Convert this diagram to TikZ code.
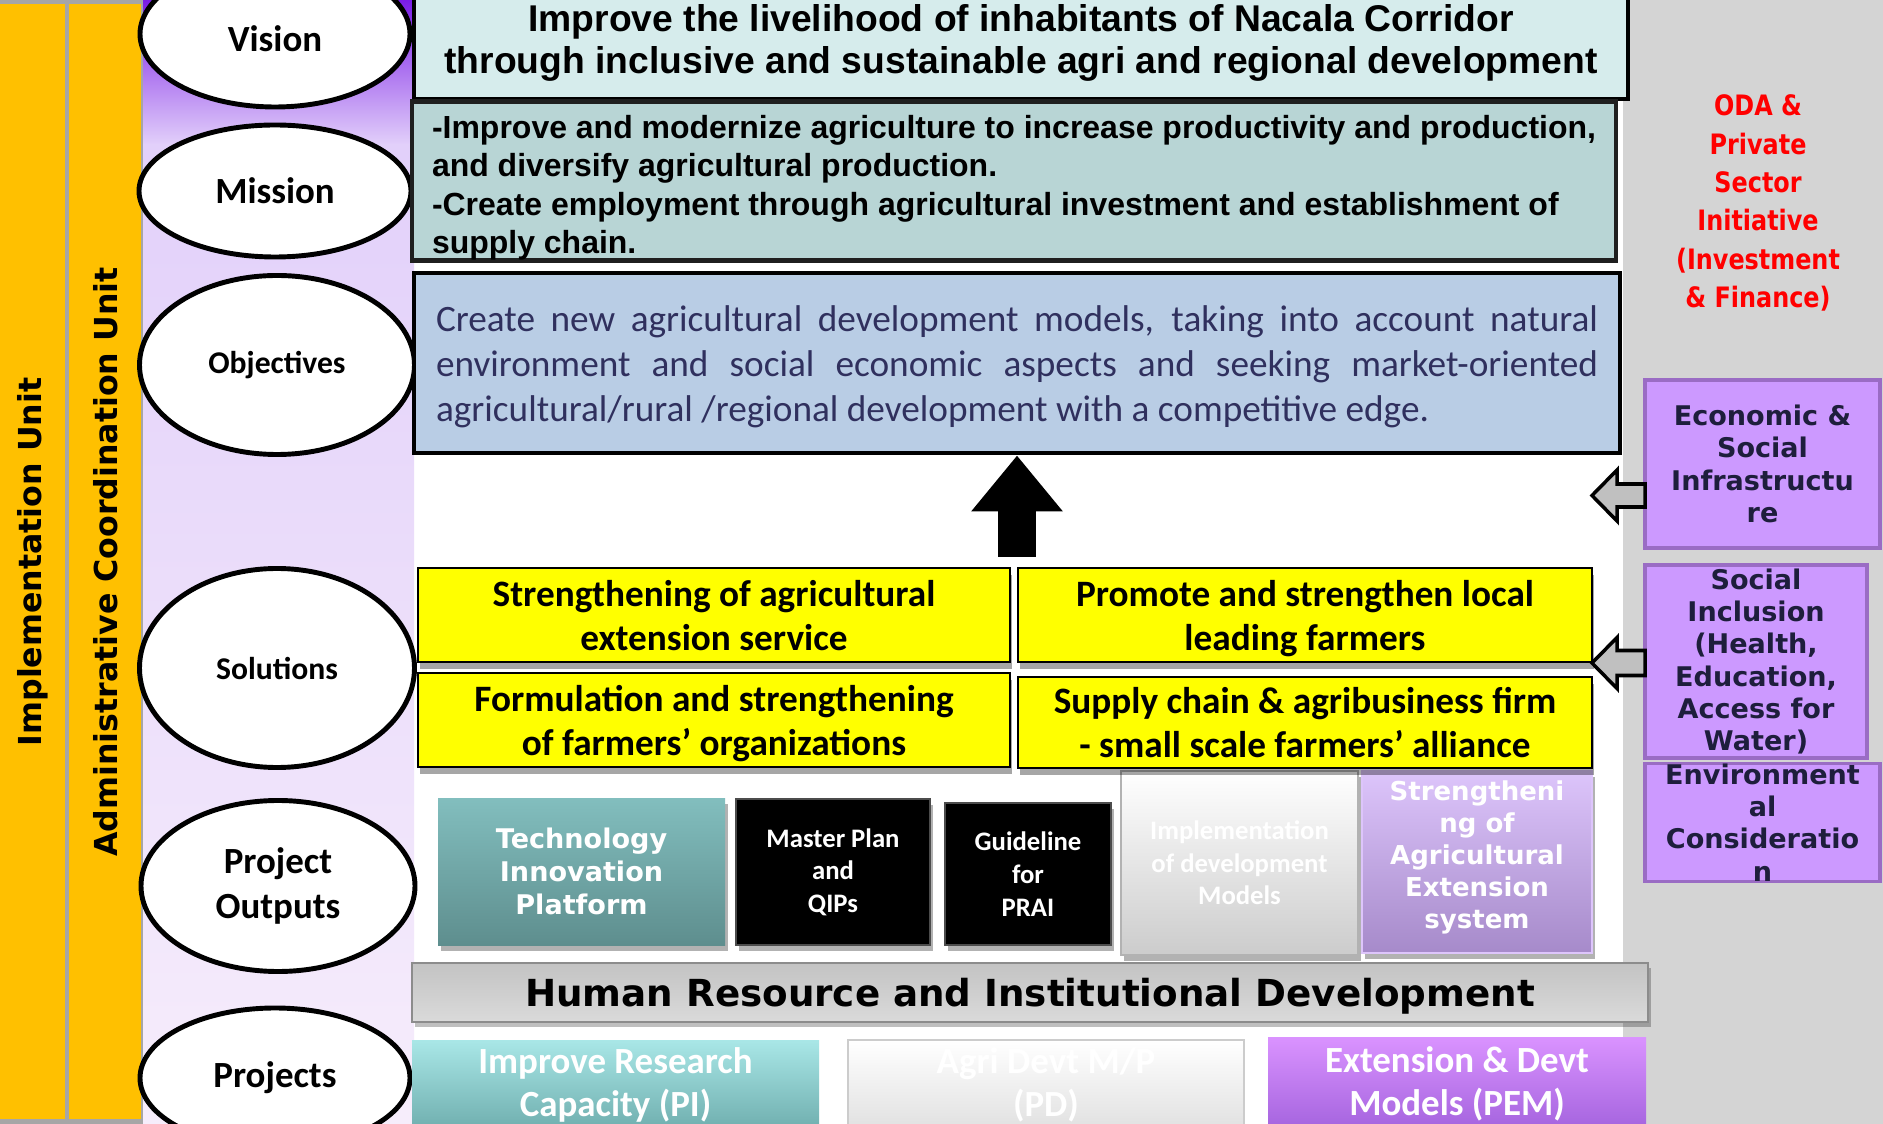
\documentclass[tikz,border=0pt]{standalone}
\usepackage{fontspec}
\setmainfont{Carlito}
\newfontfamily\wideSans{DejaVu Sans}
\newfontfamily\narrowSans[FakeStretch=0.85]{DejaVu Sans}
\newfontfamily\arialSans{Liberation Sans}
\usepackage{xcolor}
\usepackage{tikz}
\usetikzlibrary{shapes.geometric, arrows.meta, positioning, shadows}

\definecolor{unitorange}{HTML}{FFC000}
\definecolor{sepgray}{HTML}{A6A6A6}
\definecolor{violettop}{HTML}{7A1CE6}
\definecolor{lavmid}{HTML}{E2D0FA}
\definecolor{lavlow}{HTML}{F6EDFB}
\definecolor{sidegray}{HTML}{D4D4D4}
\definecolor{visionfill}{HTML}{D6ECEC}
\definecolor{missionfill}{HTML}{B8D5D5}
\definecolor{objfill}{HTML}{B9CDE5}
\definecolor{objtext}{HTML}{30305E}
\definecolor{solyellow}{HTML}{FFFF00}
\definecolor{tealtop}{HTML}{82BEBE}
\definecolor{tealbot}{HTML}{5E8E8E}
\definecolor{lilactop}{HTML}{DDC5FB}
\definecolor{lilacbot}{HTML}{A68ACA}
\definecolor{hrtop}{HTML}{C3C3C3}
\definecolor{hrbot}{HTML}{DADADA}
\definecolor{cyantop}{HTML}{A9E7E7}
\definecolor{cyanbot}{HTML}{6FAEAE}
\definecolor{pinktop}{HTML}{DA93FF}
\definecolor{pinkbot}{HTML}{A463DE}
\definecolor{sidefill}{HTML}{CC99FF}
\definecolor{sideline}{HTML}{9A6CC4}
\definecolor{sidetext}{HTML}{1E1E3C}
\definecolor{odared}{HTML}{FF0000}
\definecolor{arrowgray}{HTML}{C0C0C0}

\tikzset{
  stage/.style={ellipse, draw, line width=1.4pt, fill=white, inner sep=0pt, align=center,
    font=\bfseries\fontsize{10.5}{13}\selectfont},
  smallstage/.style={stage, font=\bfseries\fontsize{9}{11}\selectfont},
  goalbox/.style={rectangle, draw=black, line width=1.4pt, inner sep=0pt},
  solbox/.style={rectangle, draw, line width=0.6pt, fill=solyellow, inner sep=0pt, align=center,
    text depth=0pt, font=\bfseries\fontsize{10.6}{12.5}\selectfont,
    drop shadow={shadow xshift=0.02cm, shadow yshift=-0.07cm, opacity=0.35, fill=black}},
  outbox/.style={rectangle, inner sep=0pt, align=center, text=white,
    drop shadow={shadow xshift=0.03cm, shadow yshift=-0.06cm, opacity=0.3, fill=black}},
  projbox/.style={rectangle, inner sep=0pt, align=center, text=white,
    font=\bfseries\fontsize{10.5}{12.2}\selectfont},
  sidebox/.style={rectangle, draw=sideline, line width=1pt, fill=sidefill, inner sep=0pt,
    align=center, text=sidetext, font=\wideSans\bfseries\fontsize{7.7}{9.2}\selectfont},
  sidearrow/.style={draw, line width=1pt, fill=arrowgray, line join=miter},
  unitlabel/.style={rotate=90, font=\wideSans\bfseries\fontsize{9}{11}\selectfont}
}

\begin{document}
\begin{tikzpicture}
  \useasboundingbox (0,0) rectangle (18.83,-11.24);
  % background bands
  \fill[white] (0,0) rectangle (18.83,-11.24);
  \fill[sidegray] (16.23,0) rectangle (18.83,-11.24);
  \fill[sepgray] (0,0) rectangle (1.43,-11.24);
  \fill[unitorange] (0,-0.04) rectangle (0.65,-11.19);
  \fill[unitorange] (0.69,-0.04) rectangle (1.41,-11.19);
  \shade[top color=violettop, bottom color=lavmid] (1.43,0) rectangle (4.14,-1.45);
  \shade[top color=lavmid, bottom color=lavlow] (1.43,-1.45) rectangle (4.14,-11.24);

  \node[unitlabel] (impunit) at (0.33,-5.62) {Implementation Unit};
  \node[unitlabel] (admunit) at (1.06,-5.62) {Administrative Coordination Unit};

  % left column
  \node[stage, minimum width=2.70cm, minimum height=1.46cm, text height=0.36cm] (vision) at (2.75,-0.34) {Vision};
  \node[stage, minimum width=2.72cm, minimum height=1.32cm] (mission) at (2.75,-1.91) {Mission};
  \node[smallstage, minimum width=2.75cm, minimum height=1.79cm] (objectives) at (2.77,-3.65) {Objectives};
  \node[smallstage, minimum width=2.75cm, minimum height=1.99cm] (solutions) at (2.77,-6.68) {Solutions};
  \node[stage, minimum width=2.74cm, minimum height=1.71cm] (outputs) at (2.78,-8.86) {Project\\Outputs};
  \node[stage, minimum width=2.70cm, minimum height=1.40cm] (projects) at (2.75,-10.78) {Projects};

  % vision, mission, objectives
  \node[goalbox, fill=visionfill, line width=1.1pt, minimum width=12.14cm, minimum height=1.12cm,
    align=center, font=\arialSans\bfseries\fontsize{10.6}{12.2}\selectfont] (visbox) at (10.21,-0.43)
    {Improve the livelihood of inhabitants of Nacala Corridor\\
     through inclusive and sustainable agri and regional development};
  \node[goalbox, draw=black!88, fill=missionfill, minimum width=12.04cm, minimum height=1.54cm,
    align=left, font=\arialSans\bfseries\fontsize{9.1}{10.95}\selectfont] (misbox) at (10.14,-1.81)
    {\rule{0pt}{0.37cm}-Improve and modernize agriculture to increase productivity and production,\\
     and diversify agricultural production.\\
     -Create employment through agricultural investment and establishment of\\
     supply chain.};
  \node[goalbox, fill=objfill, minimum width=12.06cm, minimum height=1.80cm, text width=11.62cm,
    align=justify, text=objtext, font=\fontsize{10.6}{12.8}\selectfont] (objbox) at (10.17,-3.63)
    {\rule{0pt}{0.34cm}Create new agricultural development models, taking into account natural\linebreak
     environment and social economic aspects and seeking market-oriented\linebreak
     agricultural/rural /regional development with a competitive edge.};

  % project outputs
  \node[outbox, top color=tealtop, bottom color=tealbot, minimum width=2.87cm, minimum height=1.47cm,
    font=\wideSans\bfseries\fontsize{7.7}{9.3}\selectfont] (tip) at (5.815,-8.715)
    {Technology\\Innovation\\Platform};
  \node[outbox, fill=black, draw=black!70, line width=0.6pt, minimum width=1.94cm, minimum height=1.46cm,
    font=\bfseries\fontsize{7.6}{9.3}\selectfont] (mplan) at (8.33,-8.72) {Master Plan\\and\\QIPs};
  \node[outbox, fill=black, draw=black!70, line width=0.6pt, minimum width=1.66cm, minimum height=1.42cm,
    font=\bfseries\fontsize{7.6}{9.3}\selectfont] (guide) at (10.28,-8.74) {Guideline\\for\\PRAI};
  \node[outbox, top color=white, bottom color=black!20, draw=black!30, line width=0.8pt,
    minimum width=2.37cm, minimum height=1.84cm, text=white,
    font=\bfseries\fontsize{7.6}{9.2}\selectfont] (impl) at (12.395,-8.63)
    {Implementation\\of development\\Models};
  \node[outbox, top color=lilactop, bottom color=lilacbot, draw=lilactop, line width=0.8pt,
    minimum width=2.30cm, minimum height=1.82cm, text depth=0.15cm,
    font=\wideSans\bfseries\fontsize{7.4}{9.1}\selectfont] (strext) at (14.77,-8.62)
    {Strengtheni\\ng of\\Agricultural\\Extension\\system};

  % solutions
  \node[solbox, minimum width=5.92cm, minimum height=0.94cm] (sol1) at (7.14,-6.15)
    {Strengthening of agricultural\\extension service};
  \node[solbox, minimum width=5.74cm, minimum height=0.94cm] (sol2) at (13.05,-6.15)
    {Promote and strengthen local\\leading farmers};
  \node[solbox, minimum width=5.92cm, minimum height=0.94cm] (sol3) at (7.14,-7.20)
    {Formulation and strengthening\\of farmers’ organizations};
  \node[solbox, minimum width=5.74cm, minimum height=0.91cm] (sol4) at (13.05,-7.225)
    {Supply chain \& agribusiness firm\\- small scale farmers’ alliance};

  % human resource bar and projects
  \node[rectangle, top color=hrtop, bottom color=hrbot, draw=black!45, line width=0.7pt,
    minimum width=12.36cm, minimum height=0.59cm, inner sep=0pt, text depth=0pt,
    font=\wideSans\bfseries\fontsize{10.6}{12}\selectfont,
    drop shadow={shadow xshift=0.03cm, shadow yshift=-0.05cm, opacity=0.25, fill=black}] (hrbar) at (10.30,-9.925)
    {Human Resource and Institutional Development};
  \node[projbox, top color=cyantop, bottom color=cyanbot, minimum width=4.07cm, minimum height=0.90cm] (pi) at (6.155,-10.85)
    {Improve Research\\Capacity (PI)};
  \node[projbox, top color=white, bottom color=black!12, draw=black!20, minimum width=3.96cm, minimum height=0.90cm] (pd) at (10.46,-10.85)
    {Agri Devt M/P\\(PD)};
  \node[projbox, top color=pinktop, bottom color=pinkbot, minimum width=3.78cm, minimum height=0.93cm] (pem) at (14.57,-10.835)
    {Extension \& Devt\\Models (PEM)};

  % right side
  \node[align=center, text=odared, font=\narrowSans\bfseries\fontsize{8}{10.9}\selectfont] (oda) at (17.58,-2.03)
    {ODA \&\\Private\\Sector\\Initiative\\(Investment\\\& Finance)};
  \node[sidebox, minimum width=2.35cm, minimum height=1.68cm] (econ) at (17.625,-4.64)
    {Economic \&\\Social\\Infrastructu\\re};
  \node[sidebox, minimum width=2.22cm, minimum height=1.93cm] (social) at (17.56,-6.615)
    {Social\\Inclusion\\(Health,\\Education,\\Access for\\Water)};
  \node[sidebox, minimum width=2.35cm, minimum height=0.95cm] (env) at (17.625,-8.225)
    {Environment\\al\\Consideratio\\n};

  % arrows
  \coordinate (upbase) at (10.17,-5.57);
  \draw[line width=0.38cm, -{Triangle[length=0.56cm, width=0.88cm]}] (upbase) -- (objbox.south);
  \draw[sidearrow] (16.45,-4.84) -- (16.17,-4.84) -- (16.17,-4.70) -- (15.92,-4.955)
    -- (16.17,-5.21) -- (16.17,-5.07) -- (16.45,-5.07) -- cycle;
  \draw[sidearrow] (16.45,-6.505) -- (16.17,-6.505) -- (16.17,-6.375) -- (15.92,-6.63)
    -- (16.17,-6.885) -- (16.17,-6.755) -- (16.45,-6.755) -- cycle;
\end{tikzpicture}
\end{document}
